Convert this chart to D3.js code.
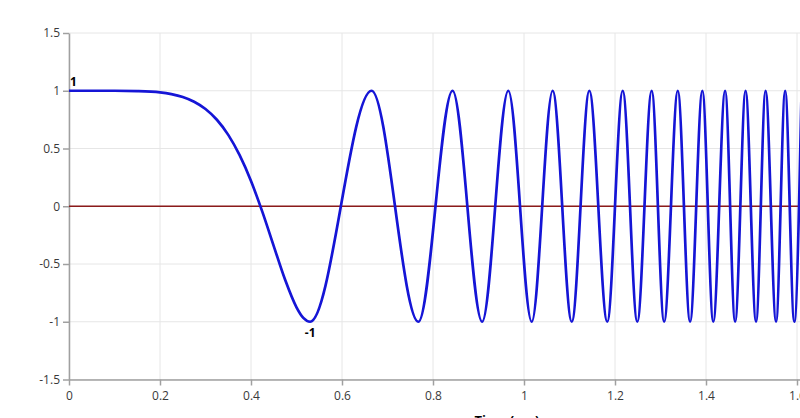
<!DOCTYPE html>
<html>
<head>
<meta charset="utf-8">
<script src="https://cdn.jsdelivr.net/npm/d3@7"></script>
<style>
  body { margin: 0; overflow: hidden; background: #fff; }
  text { font-family: "Open Sans", "Noto Sans", sans-serif; }
</style>
</head>
<body>
<div id="chart-area"></div>
<script>
// values
const startTimes = [0, 0.05, 0.1, 0.15, 0.2, 0.225, 0.25, 0.275, 0.3, 0.325, 0.35, 0.375, 0.4, 0.425, 0.45, 0.475, 0.5, 0.515]
const startValues = [1, 1, 1, 0.997, 0.986, 0.971, 0.946, 0.905, 0.842, 0.749, 0.618, 0.442, 0.219, -0.049, -0.345, -0.637, -0.875, -0.967]
const troughTimes = [0.530, 0.768, 0.908, 1.017, 1.105, 1.183, 1.249, 1.308, 1.365, 1.416, 1.464, 1.510, 1.554, 1.594]
const peakTimes = [0.665, 0.843, 0.9655, 1.063, 1.1436, 1.217, 1.2806, 1.338, 1.392, 1.442, 1.487, 1.531, 1.574, 1.61]
const xTicks = [0, 0.2, 0.4, 0.6, 0.8, 1, 1.2, 1.4, 1.6, 1.8, 2]
const yTicks = [-1.5, -1, -0.5, 0, 0.5, 1, 1.5]
const xTitle = "Time (sec)"

const MARGIN = {LEFT: 69, RIGHT: 35, TOP: 33, BOTTOM: 51}
const WIDTH = 910
const HEIGHT = 346.5

const svg = d3.select("#chart-area").append("svg")
    .attr("width", WIDTH + MARGIN.LEFT + MARGIN.RIGHT)
    .attr("height", HEIGHT + MARGIN.TOP + MARGIN.BOTTOM)

const g = svg.append("g")
    .attr("transform", `translate(${MARGIN.LEFT}, ${MARGIN.TOP})`)

const x = d3.scaleLinear().domain([0, 2]).range([0, WIDTH])
const y = d3.scaleLinear().domain([-1.5, 1.5]).range([HEIGHT, 0])

// points: the first descent, then the extremes
const points = startTimes.map((t, i) => ({t: t, v: startValues[i]}))
    .concat(troughTimes.map(t => ({t: t, v: -1})))
    .concat(peakTimes.map(t => ({t: t, v: 1})))
    .sort((a, b) => a.t - b.t)

// grid
g.append("g").selectAll("line")
    .data(xTicks)
    .enter().append("line")
    .attr("x1", d => x(d)).attr("x2", d => x(d))
    .attr("y1", 0).attr("y2", HEIGHT)
    .attr("stroke", "#e6e6e6")
g.append("g").selectAll("line")
    .data(yTicks)
    .enter().append("line")
    .attr("x1", 0).attr("x2", WIDTH)
    .attr("y1", d => y(d)).attr("y2", d => y(d))
    .attr("stroke", "#e6e6e6")

// axes
const xAxisCall = d3.axisBottom(x)
    .tickValues(xTicks)
    .tickFormat(d => String(d))
    .tickSize(6)
    .tickSizeOuter(0)
const xAxis = g.append("g")
    .attr("class", "x axis")
    .attr("transform", `translate(0, ${HEIGHT})`)
    .call(xAxisCall)

const yAxisCall = d3.axisLeft(y)
    .tickValues(yTicks)
    .tickFormat(d => String(d))
    .tickSize(6)
    .tickSizeOuter(0)
const yAxis = g.append("g")
    .attr("class", "y axis")
    .call(yAxisCall)

svg.selectAll(".axis path, .axis line").attr("stroke", "#a0a0a0").attr("stroke-width", 1.5)
svg.selectAll(".axis text")
    .attr("fill", "#3a3a3a")
    .attr("font-size", "12px")
    .attr("font-family", "'Open Sans', sans-serif")
xAxis.selectAll("text").attr("dy", "0.95em")

// zero line
g.append("line")
    .attr("x1", 0).attr("x2", WIDTH)
    .attr("y1", y(0)).attr("y2", y(0))
    .attr("stroke", "#8b1a1a")
    .attr("stroke-width", 1.5)

g.append("clipPath").attr("id", "plot-clip")
    .append("rect").attr("width", WIDTH).attr("height", HEIGHT)

const line = d3.line()
    .x(d => x(d.t))
    .y(d => y(d.v))
    .curve(d3.curveMonotoneX)

g.append("path")
    .datum(points)
    .attr("clip-path", "url(#plot-clip)")
    .attr("fill", "none")
    .attr("stroke", "#1515d6")
    .attr("stroke-width", 2.7)
    .attr("d", line)

// max / min labels
g.append("text")
    .attr("x", x(0) + 1)
    .attr("y", y(1) - 5)
    .attr("font-size", "12px")
    .attr("font-weight", "bold")
    .text("1")
g.append("text")
    .attr("x", x(troughTimes[0]))
    .attr("y", y(-1) + 15)
    .attr("font-size", "12px")
    .attr("font-weight", "bold")
    .attr("text-anchor", "middle")
    .text("-1")

// X label
svg.append("text")
    .attr("x", (WIDTH + MARGIN.LEFT + MARGIN.RIGHT) / 2)
    .attr("y", HEIGHT + MARGIN.TOP + 45)
    .attr("font-size", "13px")
    .attr("font-weight", "bold")
    .attr("text-anchor", "middle")
    .text(xTitle)
</script>
</body>
</html>
